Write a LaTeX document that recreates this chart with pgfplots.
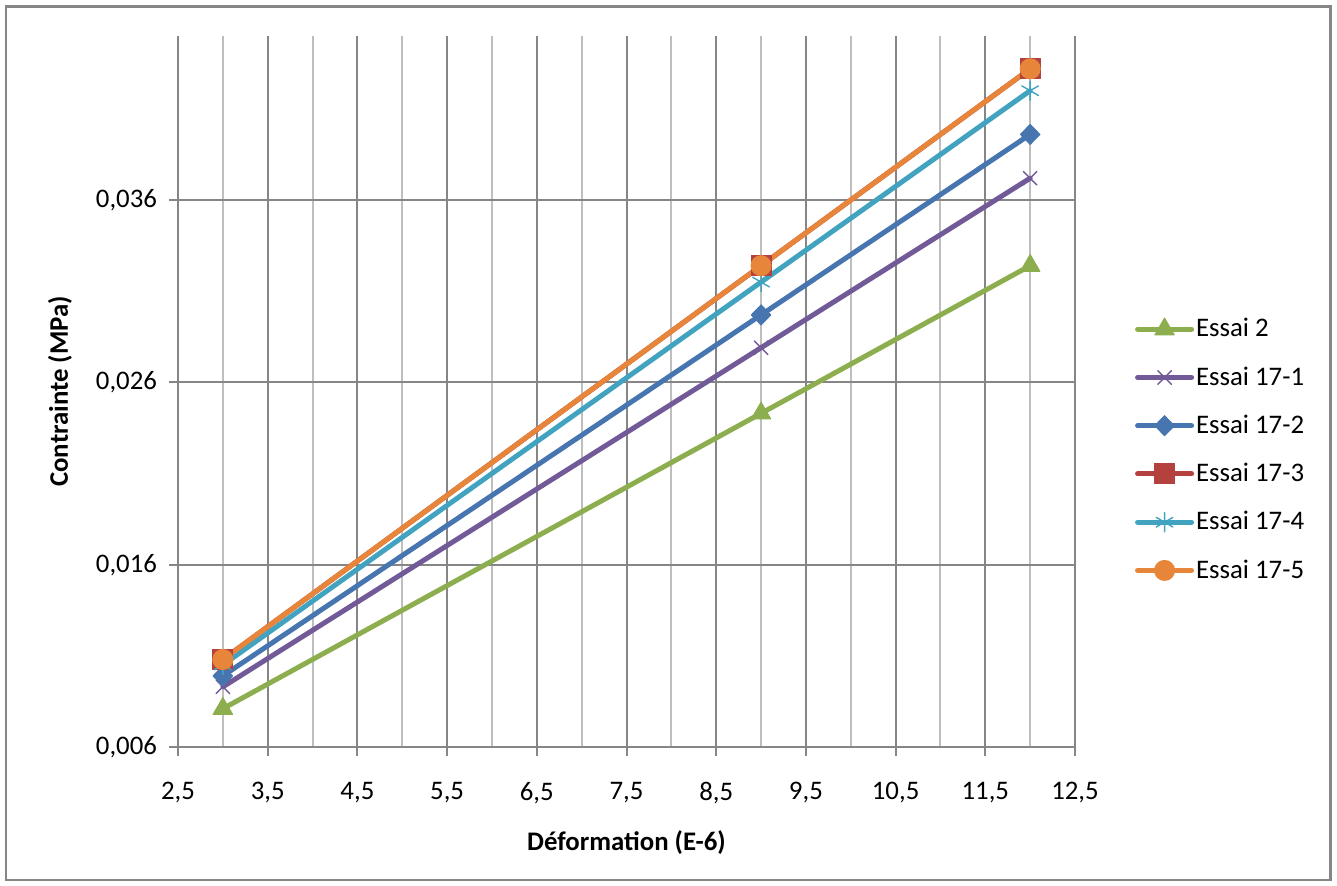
\documentclass[border=0pt]{standalone}
\usepackage{fontspec}
\setmainfont{Carlito}
\usepackage{pgfplots}
\pgfplotsset{compat=1.18}
\definecolor{gmaj}{RGB}{134,134,134}
\definecolor{gmin}{RGB}{190,190,190}
\definecolor{cgreen}{RGB}{141,174,78}
\definecolor{cpurple}{RGB}{114,90,152}
\definecolor{cblue}{RGB}{70,117,176}
\definecolor{cred}{RGB}{180,65,62}
\definecolor{caqua}{RGB}{66,163,192}
\definecolor{corange}{RGB}{231,134,58}
\begin{document}
\begin{tikzpicture}[x=1pt,y=1pt]
\path[use as bounding box] (0,0) rectangle (668.5,443);
\draw[gmaj, line width=1.4pt] (3,3) rectangle (665.3,439.7);
\begin{axis}[
  at={(89pt,69.5pt)}, anchor=south west,
  scale only axis, width=448.5pt, height=355.5pt,
  xmin=2.5, xmax=12.5, ymin=0.006, ymax=0.045,
  scaled y ticks=false,
  xtick={2.5,3.5,4.5,5.5,6.5,7.5,8.5,9.5,10.5,11.5,12.5},
  xticklabels={{2,5},{3,5},{4,5},{5,5},{6,5},{7,5},{8,5},{9,5},{10,5},{11,5},{12,5}},
  minor xtick={3,4,5,6,7,8,9,10,11,12},
  ytick={0.006,0.016,0.026,0.036},
  yticklabels={{0,006},{0,016},{0,026},{0,036}},
  axis x line*=bottom, axis y line*=left,
  axis line style={-, draw=gmaj, line width=1pt},
  xmajorgrids, xminorgrids, ymajorgrids,
  major grid style={draw=gmaj, line width=1pt},
  minor grid style={draw=gmin, line width=1pt},
  tick align=outside, major tick length=4.5pt, minor tick length=0pt,
  tick style={draw=gmaj, line width=1pt},
  ticklabel style={font=\fontsize{13.4}{15}\selectfont},
  xticklabel style={yshift=-9.5pt},
  yticklabel style={xshift=-2.5pt},
  xlabel={\textbf{Déformation (E-6)}},
  ylabel={\textbf{Contrainte (MPa)}},
  label style={font=\fontsize{13.4}{15}\selectfont},
  xlabel style={at={(axis description cs:0.5,-0.135)}, anchor=center},
  ylabel style={at={(axis description cs:-0.1316,0.5)}, anchor=center},
  legend style={draw=none, fill=none, at={(axis description cs:1.0665,0.606)}, anchor=north west,
    font=\fontsize{13.4}{15}\selectfont, row sep=11.4pt, inner sep=0pt,
    nodes={inner sep=1pt}},
  legend cell align=left,
  legend image code/.code={\draw[mark repeat=2,mark phase=2,line cap=round] plot coordinates {(0pt,0pt)(13.5pt,0pt)(27pt,0pt)};},
  every axis plot/.append style={line width=2.5pt, line cap=round, line join=round},
]
\addplot[cgreen, mark=triangle*, mark size=5.6pt, mark options={solid, line width=0.5pt}] coordinates {(3,0.0081) (9,0.0243) (12,0.0324)};
\addlegendentry{Essai 2}
\addplot[cpurple, mark=x, mark size=4.8pt, mark options={line width=0.7pt}] coordinates {(3,0.0093) (9,0.0279) (12,0.0372)};
\addlegendentry{Essai 17-1}
\addplot[cblue, mark=diamond*, mark size=5pt, mark options={line width=0.5pt, xscale=1.3}] coordinates {(3,0.0099) (9,0.0297) (12,0.0396)};
\addlegendentry{Essai 17-2}
\addplot[cred, mark=square*, mark size=5pt, mark options={line width=0.5pt}] coordinates {(3,0.0108) (9,0.0324) (12,0.0432)};
\addlegendentry{Essai 17-3}
\addplot[caqua, mark=asterisk, mark size=4.8pt, mark options={line width=0.7pt}] coordinates {(3,0.0105) (9,0.0315) (12,0.0420)};
\addlegendentry{Essai 17-4}
\addplot[corange, mark=*, mark size=5pt, mark options={line width=0.5pt}] coordinates {(3,0.0108) (9,0.0324) (12,0.0432)};
\addlegendentry{Essai 17-5}
\end{axis}
\end{tikzpicture}
\end{document}
